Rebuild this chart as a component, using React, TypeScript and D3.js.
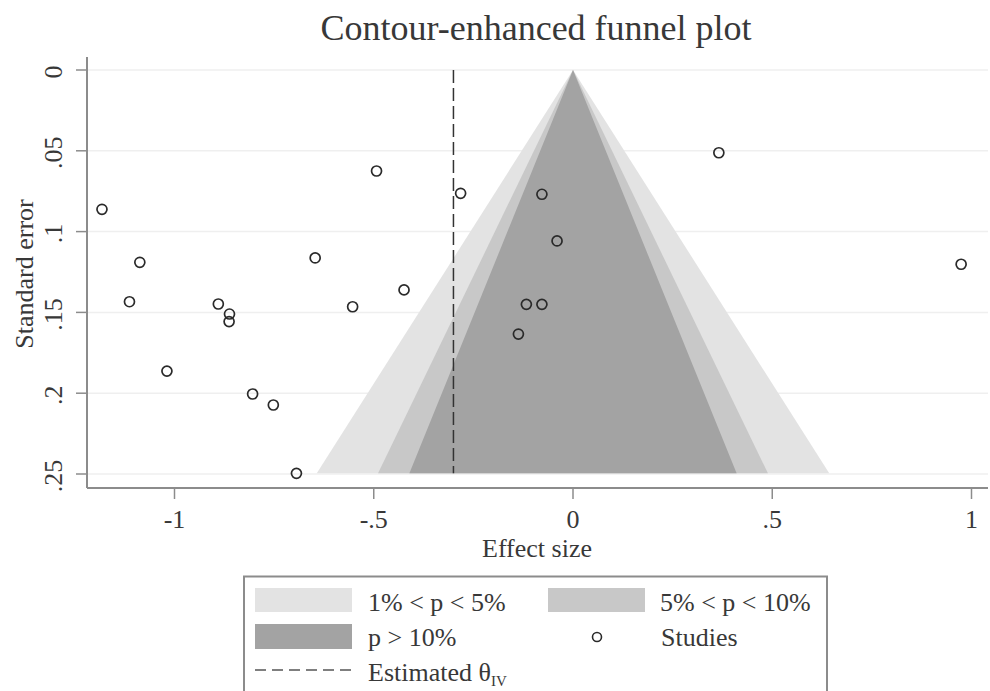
import React from "react";
import * as d3 from "d3";

const effectSizes = [-1.182, -1.087, -1.113, -0.89, -0.862, -0.863, -1.019, -0.804, -0.752, -0.694, -0.647, -0.553, -0.493, -0.424, -0.282, 0.366, -0.078, -0.04, -0.117, -0.078, -0.137, 0.974];
const standardErrors = [0.0862, 0.119, 0.1434, 0.1448, 0.151, 0.1557, 0.1863, 0.2005, 0.2073, 0.2496, 0.1163, 0.1465, 0.0625, 0.1361, 0.0763, 0.0512, 0.0769, 0.1058, 0.145, 0.145, 0.1634, 0.1202];
const thetaIV = -0.3;
const contourZ = [2.576, 1.96, 1.645];
const contourColors = ["#e3e3e3", "#c8c8c8", "#a3a3a3"];
const xTicks = [-1, -0.5, 0, 0.5, 1];
const xTickLabels = ["-1", "-.5", "0", ".5", "1"];
const yTicks = [0, 0.05, 0.1, 0.15, 0.2, 0.25];
const yTickLabels = ["0", ".05", ".1", ".15", ".2", ".25"];

const W = 990;
const H = 691;
const plotLeft = 87;
const plotRight = 988;
const plotTop = 57;
const plotBottom = 488;
const FONT = "'Liberation Serif', 'Times New Roman', serif";
const FS = 26;

export default function App() {
  const x = d3.scaleLinear().domain([-1, 1]).range([174.5, 971.5]);
  const y = d3.scaleLinear().domain([0, 0.25]).range([70, 474]);
  const seMax = d3.max(standardErrors) as number;
  const line = d3.line<[number, number]>().x((d) => x(d[0])).y((d) => y(d[1]));

  const funnels = contourZ.map((z, i) => ({
    d: line([[0, 0], [z * seMax, seMax], [-z * seMax, seMax]]) + "Z",
    color: contourColors[i],
  }));

  const textStyle = { fontFamily: FONT, fill: "#383838" } as const;

  return (
    <svg width={W} height={H} style={{ position: "absolute", left: 0, top: 0, background: "#fff" }}>
      <rect x={0} y={0} width={W} height={H} fill="#fff" />
      <text x={536} y={39.5} textAnchor="middle" fontSize={36} style={textStyle}>
        Contour-enhanced funnel plot
      </text>

      {yTicks.map((t) => (
        <line key={"g" + t} x1={plotLeft} x2={plotRight} y1={y(t)} y2={y(t)} stroke="#efefef" strokeWidth={1.5} />
      ))}

      {funnels.map((f, i) => (
        <path key={"f" + i} d={f.d} fill={f.color} stroke="none" />
      ))}

      <line x1={x(thetaIV)} x2={x(thetaIV)} y1={y(0)} y2={y(seMax)} stroke="#333" strokeWidth={1.5} strokeDasharray="13,5" />

      {effectSizes.map((e, i) => (
        <circle key={"p" + i} cx={x(e)} cy={y(standardErrors[i])} r={5} fill="none" stroke="#2a2a2a" strokeWidth={1.7} />
      ))}

      {/* axes */}
      <line x1={plotLeft} x2={plotLeft} y1={plotTop} y2={plotBottom} stroke="#8c8c8c" strokeWidth={2} />
      <line x1={plotLeft} x2={plotRight} y1={plotBottom} y2={plotBottom} stroke="#8c8c8c" strokeWidth={2} />
      {yTicks.map((t, i) => (
        <g key={"yt" + t}>
          <line x1={plotLeft - 11} x2={plotLeft} y1={y(t)} y2={y(t)} stroke="#8c8c8c" strokeWidth={1.5} />
          <text transform={`translate(62,${y(t) + 2}) rotate(-90)`} textAnchor="middle" fontSize={FS} style={textStyle}>
            {yTickLabels[i]}
          </text>
        </g>
      ))}
      {xTicks.map((t, i) => (
        <g key={"xt" + t}>
          <line x1={x(t)} x2={x(t)} y1={plotBottom} y2={plotBottom + 11} stroke="#8c8c8c" strokeWidth={1.5} />
          <text x={x(t)} y={528} textAnchor="middle" fontSize={FS} style={textStyle}>
            {xTickLabels[i]}
          </text>
        </g>
      ))}
      <text x={537} y={557} textAnchor="middle" fontSize={FS} style={textStyle}>
        Effect size
      </text>
      <text transform={`translate(33,274) rotate(-90)`} textAnchor="middle" fontSize={FS} style={textStyle}>
        Standard error
      </text>

      {/* legend */}
      <rect x={244} y={576.5} width={583} height={130} fill="#fff" stroke="#8c8c8c" strokeWidth={2} />
      <rect x={255} y={588} width={97} height={24} fill={contourColors[0]} />
      <text x={368} y={611} fontSize={FS} style={textStyle}>1% &lt; p &lt; 5%</text>
      <rect x={548} y={588} width={97} height={24} fill={contourColors[1]} />
      <text x={660} y={611} fontSize={FS} style={textStyle}>5% &lt; p &lt; 10%</text>
      <rect x={255} y={624} width={97} height={25} fill={contourColors[2]} />
      <text x={368} y={646} fontSize={FS} style={textStyle}>p &gt; 10%</text>
      <circle cx={597} cy={637} r={4.5} fill="none" stroke="#2a2a2a" strokeWidth={1.6} />
      <text x={661} y={646} fontSize={FS} style={textStyle}>Studies</text>
      <line x1={255} x2={352} y1={670} y2={670} stroke="#555" strokeWidth={1.5} strokeDasharray="11,6" />
      <text x={368} y={681} fontSize={FS} style={textStyle}>
        Estimated θ<tspan fontSize={15} dy={5}>IV</tspan>
      </text>
    </svg>
  );
}
